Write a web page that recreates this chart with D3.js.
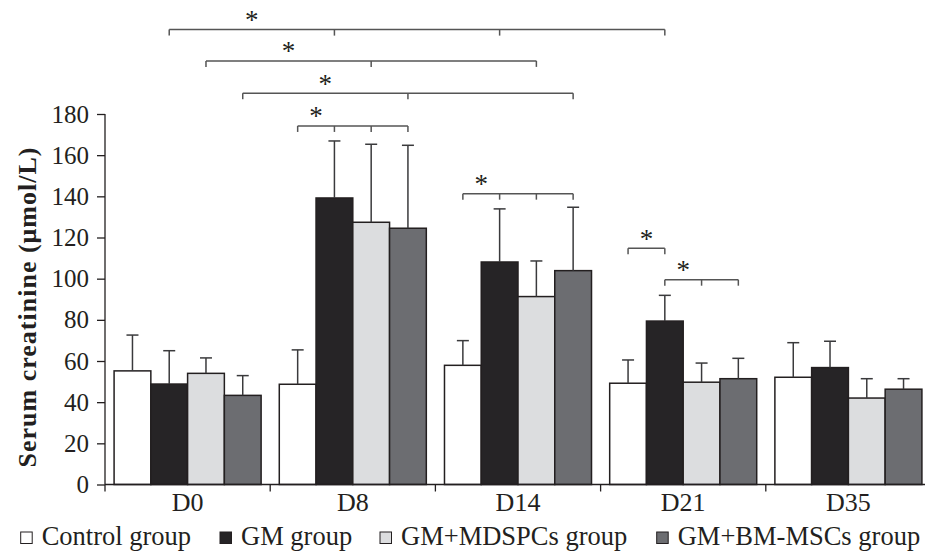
<!DOCTYPE html>
<html>
<head>
<meta charset="utf-8">
<script src="https://cdn.jsdelivr.net/npm/d3@7"></script>
<style>
  body { margin: 0; background: #fff; }
  text { font-family: "Liberation Serif", "Times New Roman", serif; fill: #231f20; }
</style>
</head>
<body>
<div id="chart-area"></div>
<script>
const days = ['D0', 'D8', 'D14', 'D21', 'D35'];
const groups = ['Control group', 'GM group', 'GM+MDSPCs group', 'GM+BM-MSCs group'];
const colors = ['#ffffff', '#262426', '#dcdddf', '#6c6d71'];

// mean and SD per group, one value per day
const controlMean = [55.2, 48.7, 57.9, 49.2, 52.1];
const controlSD   = [17.4, 16.7, 12.0, 11.3, 16.8];
const gmMean      = [48.8, 139.2, 108.1, 79.4, 56.8];
const gmSD        = [16.2, 27.7, 25.8, 12.5, 12.8];
const mdspcMean   = [54.0, 127.4, 91.3, 49.7, 42.0];
const mdspcSD     = [7.5, 37.9, 17.3, 9.3, 9.4];
const bmMean      = [43.3, 124.5, 103.9, 51.4, 46.3];
const bmSD        = [9.6, 40.3, 30.8, 9.9, 5.1];

const yTicks = [0, 20, 40, 60, 80, 100, 120, 140, 160, 180];

// significance brackets: [dayIndex, groupIndex] pairs, level in y units
const brackets = [
  { ends: [[0, 1], [1, 1], [2, 1], [3, 1]], level: 221 },
  { ends: [[0, 2], [1, 2], [2, 2]], level: 205.8 },
  { ends: [[0, 3], [1, 3], [2, 3]], level: 190.1 },
  { ends: [[1, 0], [1, 1], [1, 2], [1, 3]], level: 174.2 },
  { ends: [[2, 0], [2, 1], [2, 2], [2, 3]], level: 141.3 },
  { ends: [[3, 0], [3, 1]], level: 114.8 },
  { ends: [[3, 1], [3, 2], [3, 3]], level: 99.5 }
];

const means = [controlMean, gmMean, mdspcMean, bmMean];
const sds = [controlSD, gmSD, mdspcSD, bmSD];

const data = [];
days.forEach((day, i) => {
  groups.forEach((grp, j) => {
    data.push({ day: day, group: grp, gi: j, mean: means[j][i], sd: sds[j][i] });
  });
});

const width = 925;
const height = 553;
const axisLeft = 105;
const axisBottom = 484.5;

const svg = d3.select('#chart-area')
  .append('svg')
  .attr('width', width)
  .attr('height', height);

const x0 = d3.scaleBand()
  .domain(days)
  .range([axisLeft, axisLeft + 5 * 165.2])
  .paddingInner(0.11)
  .paddingOuter(0.055);

const x1 = d3.scaleBand()
  .domain(groups)
  .range([0, x0.bandwidth()]);

const y = d3.scaleLinear()
  .domain([0, 180])
  .range([axisBottom, 114]);

const barC = (di, gi) => x0(days[di]) + x1(groups[gi]) + x1.bandwidth() / 2;

// bars
svg.append('g')
  .selectAll('rect')
  .data(data)
  .enter().append('rect')
  .attr('x', d => x0(d.day) + x1(d.group))
  .attr('y', d => y(d.mean))
  .attr('width', x1.bandwidth())
  .attr('height', d => y(0) - y(d.mean))
  .attr('fill', d => colors[d.gi])
  .attr('stroke', '#231f20')
  .attr('stroke-width', 1.5);

// error bars (upper only)
const err = svg.append('g')
  .attr('stroke', '#3a3a3c')
  .attr('stroke-width', 1.5);

data.forEach(d => {
  const cx = x0(d.day) + x1(d.group) + x1.bandwidth() / 2;
  err.append('line')
    .attr('x1', cx).attr('x2', cx)
    .attr('y1', y(d.mean)).attr('y2', y(d.mean + d.sd));
  err.append('line')
    .attr('x1', cx - 6).attr('x2', cx + 6)
    .attr('y1', y(d.mean + d.sd)).attr('y2', y(d.mean + d.sd));
});

// y axis
const yAxis = svg.append('g')
  .attr('transform', `translate(${axisLeft},0)`)
  .call(d3.axisLeft(y).tickValues(yTicks).tickSize(8).tickPadding(8));
yAxis.select('.domain').attr('d', `M0,${y(180)}V${y(0)}`);
yAxis.selectAll('line, path').attr('stroke', '#231f20').attr('stroke-width', 1.3);
yAxis.selectAll('text')
  .attr('font-size', '25px')
  .attr('font-family', '"Liberation Serif", serif')
  .attr('fill', '#231f20');

// x axis
const xAxis = svg.append('g')
  .attr('transform', `translate(0,${axisBottom})`);
xAxis.append('line')
  .attr('x1', axisLeft).attr('x2', width + 10)
  .attr('stroke', '#231f20').attr('stroke-width', 1.3);
xAxis.selectAll('.tick')
  .data(days)
  .enter().append('line')
  .attr('x1', d => x0(d) - x0.step() * x0.paddingOuter())
  .attr('x2', d => x0(d) - x0.step() * x0.paddingOuter())
  .attr('y1', 0).attr('y2', 7)
  .attr('stroke', '#231f20').attr('stroke-width', 1.3);
xAxis.selectAll('text')
  .data(days)
  .enter().append('text')
  .attr('x', d => x0(d) + x0.bandwidth() / 2)
  .attr('y', 26)
  .attr('text-anchor', 'middle')
  .attr('font-size', '26px')
  .text(d => d);

// y title
svg.append('text')
  .attr('transform', `translate(36,${307}) rotate(-90)`)
  .attr('text-anchor', 'middle')
  .attr('font-size', '26px')
  .attr('font-weight', 'bold')
  .attr('letter-spacing', '1px')
  .text('Serum creatinine (\u03bcmol/L)');

// significance brackets
const br = svg.append('g');
brackets.forEach(b => {
  const xs = b.ends.map(e => barC(e[0], e[1]));
  const by = y(b.level);
  br.append('line')
    .attr('x1', xs[0]).attr('x2', xs[xs.length - 1])
    .attr('y1', by).attr('y2', by)
    .attr('stroke', '#555').attr('stroke-width', 1.5);
  xs.forEach(xv => {
    br.append('line')
      .attr('x1', xv).attr('x2', xv)
      .attr('y1', by).attr('y2', by + 6)
      .attr('stroke', '#555').attr('stroke-width', 1.5);
  });
  br.append('text')
    .attr('x', (xs[0] + xs[1]) / 2)
    .attr('y', by - 0.5)
    .attr('text-anchor', 'middle')
    .attr('font-size', '27px')
    .attr('fill', '#444')
    .text('*');
});

// legend
const legendX = [20.7, 220, 380, 656.7];
const legend = svg.append('g');
groups.forEach((g, i) => {
  legend.append('rect')
    .attr('x', legendX[i]).attr('y', 532)
    .attr('width', 11.5).attr('height', 11.5)
    .attr('fill', colors[i])
    .attr('stroke', '#231f20').attr('stroke-width', 1);
  legend.append('text')
    .attr('x', legendX[i] + 21)
    .attr('y', 545)
    .attr('font-size', '26.5px')
    .text(g);
});
</script>
</body>
</html>
